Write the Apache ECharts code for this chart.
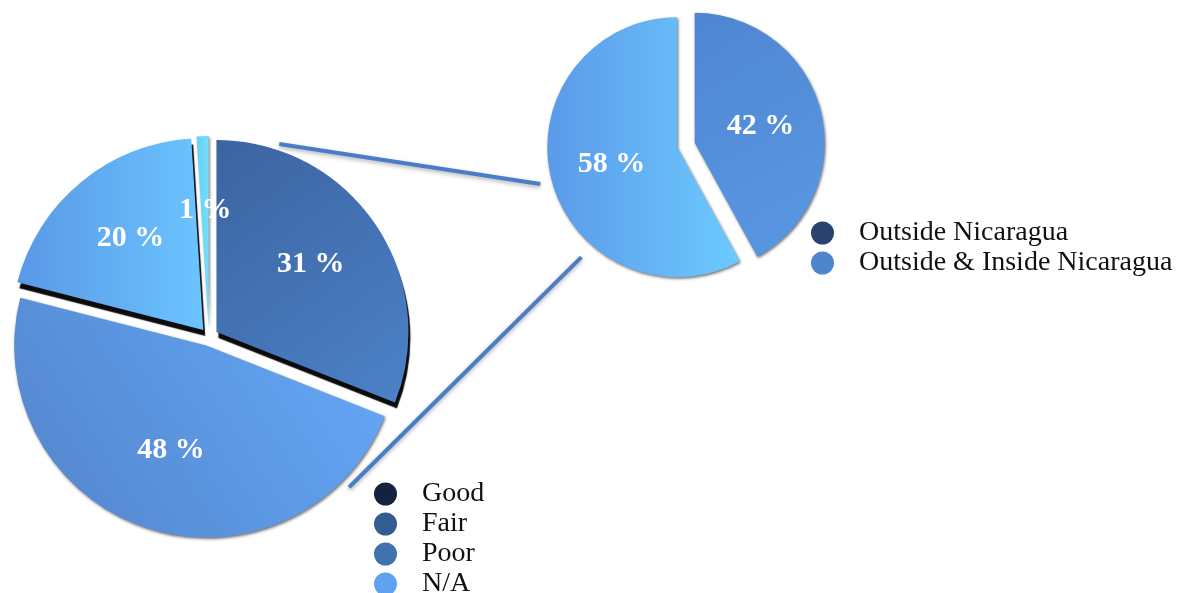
<!DOCTYPE html>
<html>
<head>
<meta charset="utf-8">
<script src="https://cdn.jsdelivr.net/npm/echarts@6/dist/echarts.min.js"></script>
<style>
  html, body { margin: 0; padding: 0; background: #ffffff; }
  #chart { width: 1195px; height: 593px; }
</style>
</head>
<body>
<div id="chart"></div>
<script>
// Condition breakdown (left pie), clockwise from 12 o'clock
const conditionNames = ['Good', 'Fair', 'Poor', 'N/A'];
const conditionValues = [31, 48, 20, 1];

// Location breakdown (right pie), clockwise from 12 o'clock
const locationNames = ['Outside Nicaragua', 'Outside & Inside Nicaragua'];
const locationValues = [42, 58];

// Legend swatch colours
const conditionLegendColors = ['#14233d', '#335d92', '#4272ae', '#5ea2f0'];
const locationLegendColors = ['#28446e', '#4d86cc'];

const SERIF = "'Liberation Serif', 'Times New Roman', 'DejaVu Serif', serif";
const LG = echarts.graphic.LinearGradient;

// Lit / shaded fills for the slices (gives the bevelled 3D feel)
const conditionFills = [
  new LG(0, 0, 1, 1, [{ offset: 0, color: '#3c64a0' }, { offset: 1, color: '#4c81c8' }]),
  new LG(0, 1, 1, 0, [{ offset: 0, color: '#5384ca' }, { offset: 1, color: '#65aafa' }]),
  new LG(0, 0.5, 1, 0.5, [{ offset: 0, color: '#5a98e6' }, { offset: 1, color: '#6bc4ff' }]),
  new LG(0, 0, 1, 0, [{ offset: 0, color: '#66d0f6' }, { offset: 1, color: '#74defc' }])
];
const locationFills = [
  new LG(0, 0, 1, 1, [{ offset: 0, color: '#4f86d1' }, { offset: 1, color: '#5a98e4' }]),
  new LG(0, 0.5, 1, 0.5, [{ offset: 0, color: '#5b9ae9' }, { offset: 1, color: '#6ccaff' }])
];

// Dark slab edges seen below the tilted slices
const darkEdge = { shadowColor: '#0b0b0b', shadowBlur: 1, shadowOffsetX: 2, shadowOffsetY: 6 };
const softEdge = { shadowColor: 'rgba(0,0,0,0.55)', shadowBlur: 3, shadowOffsetX: 1, shadowOffsetY: 1.5 };
const conditionEdges = [darkEdge, softEdge, darkEdge, softEdge];
const locationEdges = [softEdge, softEdge];

// Layout (pixels)
const leftPie = { cx: 209, cy: 337, r: 192, labelR: 222 };
const rightPie = { cx: 686, cy: 145, r: 130 };
const explode = 9;

function polar(p, angleDeg, k) {
  const a = angleDeg * Math.PI / 180;
  return [p.cx + Math.sin(a) * p.r * k, p.cy - Math.cos(a) * p.r * k];
}

// Leader lines joining the two pies
const connectors = [
  [polar(leftPie, 20, 1.07), polar(rightPie, 255, 1.16)],
  [polar(leftPie, 137, 1.07), polar(rightPie, 223, 1.18)]
];

const labelStyle = {
  show: true,
  position: 'inside',
  formatter: '{c} %',
  color: '#ffffff',
  fontFamily: SERIF,
  fontWeight: 'bold',
  fontSize: 30
};

const legendText = { fontFamily: SERIF, fontSize: 28, color: '#111111', padding: [0, 0, 0, 20] };

const chart = echarts.init(document.getElementById('chart'), null, { renderer: 'canvas' });

chart.setOption({
  animation: false,
  backgroundColor: '#ffffff',
  legend: [
    {
      data: conditionNames.map((n, i) => ({ name: n, itemStyle: { color: conditionLegendColors[i] } })),
      orient: 'vertical',
      left: 374,
      top: 480,
      height: 160,
      padding: 0,
      icon: 'circle',
      itemWidth: 23,
      itemHeight: 23,
      itemGap: 2,
      selectedMode: false,
      textStyle: legendText
    },
    {
      data: locationNames.map((n, i) => ({ name: n, itemStyle: { color: locationLegendColors[i] } })),
      orient: 'vertical',
      left: 811,
      top: 219,
      height: 100,
      padding: 0,
      icon: 'circle',
      itemWidth: 23,
      itemHeight: 23,
      itemGap: 2,
      selectedMode: false,
      textStyle: legendText
    }
  ],
  graphic: connectors.map(([a, b]) => ({
    type: 'line',
    z: 1,
    shape: { x1: a[0], y1: a[1], x2: b[0], y2: b[1] },
    style: {
      stroke: '#4a7dc6',
      lineWidth: 4,
      shadowBlur: 4,
      shadowColor: 'rgba(0,0,0,0.3)',
      shadowOffsetY: 2
    }
  })),
  series: [
    {
      name: 'Condition',
      type: 'pie',
      center: [leftPie.cx, leftPie.cy],
      radius: leftPie.r,
      startAngle: 90,
      clockwise: true,
      selectedMode: 'multiple',
      selectedOffset: explode,
      avoidLabelOverlap: false,
      emphasis: { disabled: true },
      label: { show: false },
      labelLine: { show: false },
      data: conditionNames.map((n, i) => ({
        name: n,
        value: conditionValues[i],
        selected: true,
        itemStyle: Object.assign({ color: conditionFills[i] }, conditionEdges[i])
      }))
    },
    {
      // transparent twin that carries the value labels further out from the centre
      name: 'Condition labels',
      type: 'pie',
      z: 3,
      silent: true,
      center: [leftPie.cx, leftPie.cy - 4],
      radius: leftPie.labelR,
      startAngle: 90,
      clockwise: true,
      selectedMode: 'multiple',
      selectedOffset: explode,
      avoidLabelOverlap: false,
      emphasis: { disabled: true },
      label: labelStyle,
      labelLine: { show: false },
      itemStyle: { color: 'rgba(0,0,0,0)' },
      data: conditionNames.map((n, i) => ({ name: n, value: conditionValues[i], selected: true }))
    },
    {
      name: 'Location',
      type: 'pie',
      center: [rightPie.cx, rightPie.cy],
      radius: rightPie.r,
      startAngle: 90,
      clockwise: true,
      selectedMode: 'multiple',
      selectedOffset: explode,
      avoidLabelOverlap: false,
      emphasis: { disabled: true },
      label: labelStyle,
      labelLine: { show: false },
      data: locationNames.map((n, i) => ({
        name: n,
        value: locationValues[i],
        selected: true,
        itemStyle: Object.assign({ color: locationFills[i] }, locationEdges[i])
      }))
    }
  ]
});
</script>
</body>
</html>
